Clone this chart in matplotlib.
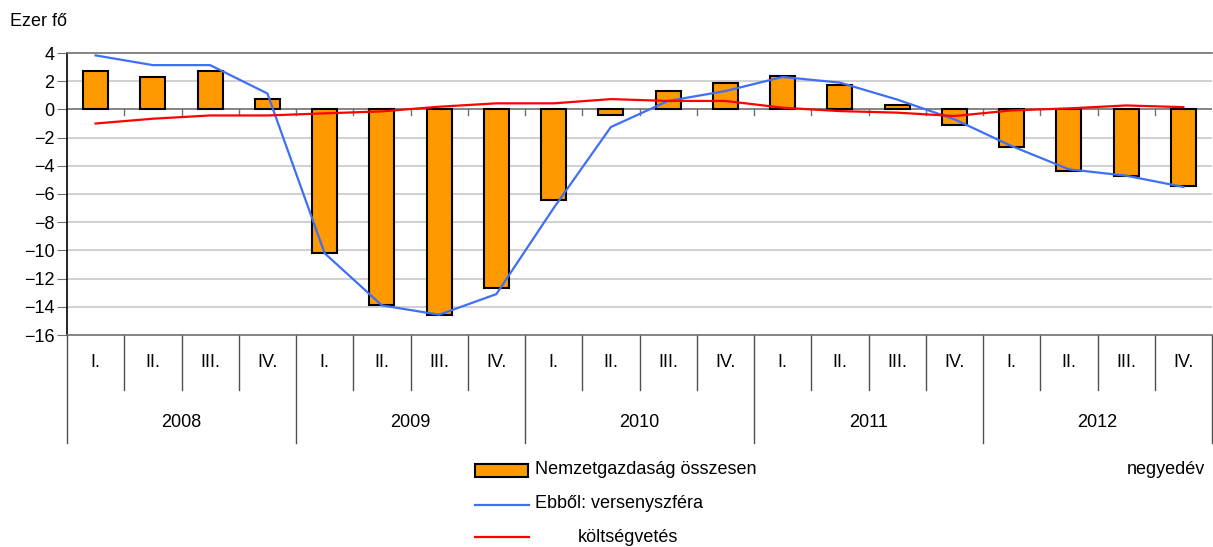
import matplotlib
matplotlib.use('Agg')
import matplotlib.pyplot as plt
from matplotlib.patches import Rectangle
from matplotlib.lines import Line2D
import numpy as np

# adatok (ezer fő, negyedéves változás)
evek = ['2008', '2009', '2010', '2011', '2012']
negyedevek = ['I.', 'II.', 'III.', 'IV.']
osszesen = [2.7, 2.3, 2.7, 0.75, -10.2, -13.9, -14.6, -12.7, -6.4, -0.43,
            1.3, 1.87, 2.4, 1.72, 0.33, -1.13, -2.7, -4.4, -4.7, -5.4]
verseny = [3.83, 3.14, 3.14, 1.13, -10.2, -13.9, -14.56, -13.1, -7.0, -1.25,
           0.6, 1.3, 2.3, 1.9, 0.7, -0.7, -2.6, -4.25, -4.7, -5.5]
koltsegvetes = [-1.0, -0.66, -0.43, -0.43, -0.28, -0.14, 0.19, 0.43, 0.43, 0.73,
                0.6, 0.6, 0.12, -0.12, -0.23, -0.47, -0.07, 0.07, 0.28, 0.16]

plt.rcParams['font.family'] = ['Liberation Sans Narrow', 'Liberation Sans', 'DejaVu Sans']
fs = 13

W, H = 1213, 547
fig = plt.figure(figsize=(W/100, H/100), dpi=100)
ax = fig.add_axes([67/W, 1-335/H, (1212-67)/W, (335-53)/H])

x = np.arange(len(osszesen))

# rács
for yv in range(-14, 4, 2):
    if yv != 0:
        ax.axhline(yv, color='#c8c8c8', lw=1.2, zorder=0)
ax.axhline(0, color='#707070', lw=1.2, zorder=1)

ax.bar(x, osszesen, width=0.44, color='#FF9900', edgecolor='black', lw=1.5, zorder=2)
ax.plot(x, verseny, color='#3F6FF5', lw=1.6, zorder=3)
ax.plot(x, koltsegvetes, color='#FF0000', lw=1.6, zorder=3)

# kis osztások a nulla vonalon
for k in range(1, len(x)):
    ax.plot([k-0.5, k-0.5], [0, -0.4], color='#707070', lw=1, zorder=1)

ax.set_xlim(-0.5, len(x)-0.5)
ax.set_ylim(-16, 4)
ax.set_yticks(range(-16, 5, 2))
ax.tick_params(axis='y', length=7, color='#707070', labelsize=fs, pad=2)
ax.set_xticks([])
ax.spines['top'].set_color('#707070')
ax.spines['bottom'].set_color('#707070')
ax.spines['right'].set_visible(False)
ax.spines['left'].set_color('black')
for s in ax.spines.values():
    s.set_linewidth(1.2)

# kategória-tengely (negyedév / év)
tr = ax.get_xaxis_transform()
for k in range(len(x)+1):
    lo = -0.383 if k % 4 == 0 else -0.195
    ax.plot([k-0.5, k-0.5], [0, lo], transform=tr, color='#505050', lw=1, clip_on=False)
for i in range(len(x)):
    ax.text(i, -0.099, negyedevek[i % 4], transform=tr, ha='center', va='center', fontsize=fs)
for j, ev in enumerate(evek):
    ax.text(4*j+1.5, -0.312, ev, transform=tr, ha='center', va='center', fontsize=fs)

fig.text(10/W, 1-22/H, 'Ezer fő', ha='left', va='center', fontsize=fs)

# jelmagyarázat
fig.patches.append(Rectangle((475/W, 1-477/H), 53/W, 13/H, transform=fig.transFigure,
                             facecolor='#FF9900', edgecolor='black', lw=1.5))
fig.lines.append(Line2D([475/W, 529/W], [1-505/H, 1-505/H], transform=fig.transFigure,
                        color='#3F6FF5', lw=1.6))
fig.lines.append(Line2D([475/W, 529/W], [1-537/H, 1-537/H], transform=fig.transFigure,
                        color='#FF0000', lw=1.6))
fig.text(535/W, 1-470/H, 'Nemzetgazdaság összesen', ha='left', va='center', fontsize=fs)
fig.text(535/W, 1-503/H, 'Ebből: versenyszféra', ha='left', va='center', fontsize=fs)
fig.text(578/W, 1-538/H, 'költségvetés', ha='left', va='center', fontsize=fs)
fig.text(1205/W, 1-470/H, 'negyedév', ha='right', va='center', fontsize=fs)

fig.savefig('out.png', dpi=100)
